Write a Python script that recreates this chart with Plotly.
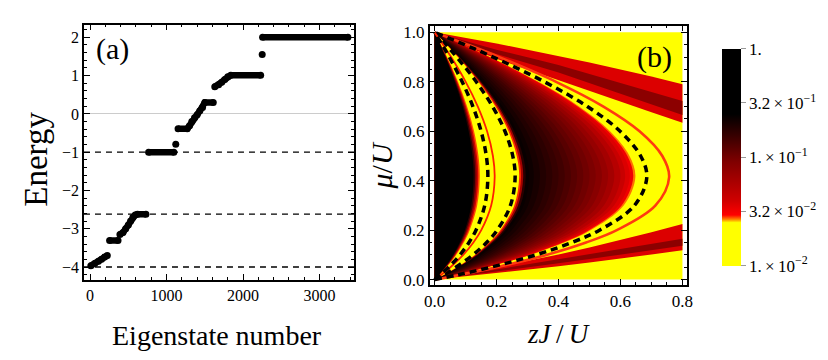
import plotly.graph_objects as go

SERIF = "Liberation Serif"

# ---- panel (a): energy staircase (None splits the runs of dots)
state_n = [10, 60, 110, 150, 190, 225, None,
           255, 365, None,
           390, 430, 465, 500, 530, 560, 590, 620, 730, None,
           765, 1095, None,
           1120, None,
           1150, 1270, 1300, 1330, 1365, 1400, 1435, 1470, 1500, 1610, None,
           1630, 1680, 1720, 1760, 1800, 1840, 2230, None,
           2250, None,
           2255, 3370]
energy = [-3.97, -3.91, -3.85, -3.80, -3.74, -3.70, None,
          -3.31, -3.31, None,
          -3.15, -3.10, -3.00, -2.90, -2.80, -2.70, -2.64, -2.62, -2.62, None,
          -1.0, -1.0, None,
          -0.79, None,
          -0.385, -0.385, -0.31, -0.20, -0.10, -0.02, 0.08, 0.17, 0.30, 0.30, None,
          0.71, 0.76, 0.83, 0.90, 0.97, 1.01, 1.01, None,
          1.55, None,
          2.0, 2.0]
dashed_levels = [-1.0, -2.62, -4.0]

# ---- panel (b): lobe curves, all share one shape
mu_pts = [0, 0.02, 0.05, 0.1, 0.15, 0.2, 0.3, 0.414, 0.5, 0.6, 0.7, 0.8, 0.9, 0.95, 1.0]
lobe_shape = [0, 0.112, 0.264, 0.477, 0.646, 0.777, 0.942, 1.0, 0.971, 0.874, 0.720, 0.518, 0.276, 0.142, 0]

# filled lobes (tip zJ/U, colour), drawn largest first
fill_lobes = [(0.648, "#ff7000"), (0.641, "#f00000"), (0.630, "#dc0000"), (0.615, "#c80000"),
              (0.600, "#b60000"), (0.580, "#a40000"), (0.560, "#960000"), (0.540, "#880000"),
              (0.520, "#7c0000"), (0.500, "#700000"), (0.480, "#640000"), (0.460, "#580000"),
              (0.440, "#4c0000"), (0.420, "#400000"), (0.400, "#360000"), (0.380, "#2c0000"),
              (0.360, "#220000"), (0.340, "#180000"), (0.320, "#0e0000"), (0.305, "#080000"),
              (0.294, "#2a0000"), (0.286, "#a00000"), (0.279, "#ff2a00"), (0.273, "#ffff00"),
              (0.146, "#ff5000"), (0.141, "#d00000"), (0.136, "#800000"), (0.131, "#300000"),
              (0.126, "#000000")]
# line lobes (tip, colour, width, dash)
line_lobes = [(0.757, "#ff3a10", 2.6, "solid"), (0.685, "black", 3.5, "7px,5px"),
              (0.260, "black", 3.5, "7px,5px"), (0.194, "#ff2000", 1.8, "solid"),
              (0.172, "black", 3.5, "7px,5px")]

# side bands (zJ/U, upper mu, lower mu)
band_x = [0, 0.1, 0.2, 0.3, 0.4, 0.5, 0.6, 0.7, 0.8]
top_hi = [1.0, 0.978, 0.955, 0.930, 0.905, 0.878, 0.850, 0.822, 0.790]
top_lo = [1.0, 0.944, 0.893, 0.848, 0.806, 0.763, 0.720, 0.677, 0.634]
top_core_hi = [1.0, 0.965, 0.930, 0.899, 0.868, 0.832, 0.795, 0.758, 0.722]
top_core_lo = [1.0, 0.955, 0.912, 0.875, 0.838, 0.795, 0.752, 0.709, 0.666]
bot_hi = [0, 0.025, 0.050, 0.076, 0.102, 0.130, 0.160, 0.192, 0.225]
bot_lo = [0, 0.013, 0.026, 0.040, 0.054, 0.069, 0.085, 0.102, 0.119]
bot_core_hi = [0, 0.021, 0.042, 0.062, 0.082, 0.102, 0.123, 0.144, 0.165]
bot_core_lo = [0, 0.016, 0.033, 0.050, 0.066, 0.083, 0.100, 0.118, 0.137]

zj_span = [0, 0.8]
mu_span = [0, 1.0]

cbar_vals = [-2, -1.5, -1, -0.5, 0]
cbar_text = ["1.\u2009×\u200910<sup>−2</sup>", "3.2\u2009×\u200910<sup>−2</sup>",
             "1.\u2009×\u200910<sup>−1</sup>", "3.2\u2009×\u200910<sup>−1</sup>", "1."]
cscale = [[0, "#ffff00"], [0.2, "#ffff00"], [0.215, "#ff8000"], [0.235, "#ff0000"],
          [0.3, "#d00000"], [0.48, "#800000"], [0.6, "#380000"], [0.7, "#000000"], [1, "#000000"]]

fig = go.Figure()

fig.add_trace(go.Scatter(x=state_n, y=energy, mode="lines+markers",
                         line=dict(color="black", width=6.5),
                         marker=dict(color="black", size=7), showlegend=False))

# panel (b)
xa, ya = "x2", "y2"
fig.add_trace(go.Scatter(x=[zj_span[0], zj_span[1], zj_span[1], zj_span[0]],
                         y=[mu_span[0], mu_span[0], mu_span[1], mu_span[1]],
                         fill="toself", fillcolor="#ffff00", line=dict(width=0),
                         mode="lines", xaxis=xa, yaxis=ya, showlegend=False))


def band(hi, lo, color):
    fig.add_trace(go.Scatter(x=band_x + band_x[::-1], y=hi + lo[::-1], fill="toself",
                             fillcolor=color, line=dict(width=0),
                             mode="lines", xaxis=xa, yaxis=ya, showlegend=False))


band(top_hi, top_lo, "#dc0000")
band(top_core_hi, top_core_lo, "#8c0000")
band(bot_hi, bot_lo, "#dc0000")
band(bot_core_hi, bot_core_lo, "#8c0000")

for tip, col in fill_lobes:
    fig.add_trace(go.Scatter(x=[tip * s for s in lobe_shape], y=mu_pts, fill="toself",
                             fillcolor=col, line=dict(width=0, shape="spline"),
                             mode="lines", xaxis=xa, yaxis=ya, showlegend=False))

for tip, col, w, dash in line_lobes:
    fig.add_trace(go.Scatter(x=[tip * s for s in lobe_shape], y=mu_pts, mode="lines",
                             line=dict(color=col, width=w, dash=dash, shape="spline"),
                             xaxis=xa, yaxis=ya, showlegend=False))

fig.add_trace(go.Scatter(x=zj_span[:1] * 2, y=mu_span[:1] * 2, mode="markers",
                         marker=dict(color=[cbar_vals[0], cbar_vals[-1]], cmin=-2, cmax=0,
                                     colorscale=cscale, opacity=0, showscale=True,
                                     colorbar=dict(x=708 / 828, xanchor="left", thickness=19,
                                                   len=242 / 360, y=1 - 150 / 360, yanchor="middle",
                                                   tickvals=cbar_vals, ticktext=cbar_text,
                                                   ticks="outside", ticklen=5, tickcolor="#999999",
                                                   outlinewidth=0,
                                                   tickfont=dict(family=SERIF, size=17, color="black"))),
                         xaxis=xa, yaxis=ya, showlegend=False))

axis_common = dict(showline=True, linecolor="black", linewidth=1.5, mirror="ticks",
                   ticks="inside", ticklen=6, tickwidth=1.2, tickcolor="black",
                   showgrid=False, zeroline=False,
                   tickfont=dict(family=SERIF, size=16, color="black"))

fig.update_layout(
    width=828, height=360, margin=dict(l=0, r=0, t=0, b=0),
    paper_bgcolor="white", plot_bgcolor="white",
    xaxis=dict(axis_common, domain=[71 / 828, 345 / 828], range=[-80, 3450],
               tickvals=[0, 1000, 2000, 3000],
               minor=dict(dtick=200, ticks="inside", ticklen=3, tickcolor="black")),
    yaxis=dict(axis_common, domain=[1 - 275 / 360, 1 - 15 / 360], range=[-4.33, 2.33],
               dtick=1, zeroline=True, zerolinecolor="#cccccc", zerolinewidth=1,
               minor=dict(dtick=0.2, ticks="inside", ticklen=3, tickcolor="black")),
    xaxis2=dict(axis_common, domain=[421.7 / 828, 683 / 828], range=[-0.016, 0.815],
                dtick=0.2, tickformat=".1f", anchor="y2",
                tickfont=dict(family=SERIF, size=17, color="black"),
                minor=dict(dtick=0.05, ticks="inside", ticklen=3, tickcolor="black")),
    yaxis2=dict(axis_common, domain=[1 - 280 / 360, 1 - 16 / 360], range=[-0.02, 1.027],
                dtick=0.2, tickformat=".1f", anchor="x2",
                tickfont=dict(family=SERIF, size=17, color="black"),
                minor=dict(dtick=0.05, ticks="inside", ticklen=3, tickcolor="black")),
)

for v in dashed_levels:
    fig.add_shape(type="line", xref="x domain", yref="y", x0=0, x1=1, y0=v, y1=v,
                  line=dict(color="black", width=1.3, dash="6px,5px"), layer="below")

notes = [
    ("Energy", 22, 152, -90, 33, "black"),
    ("Eigenstate number", 206, 332, 0, 28, "black"),
    ("<i>μ</i>/<i>U</i>", 373, 159, -90, 30, "black"),
    ("<i>zJ</i>\u2009/\u2009<i>U</i>", 552, 330, 0, 27, "black"),
    ("(a)", 100, 40, 0, 30, "black"),
    ("(b)", 650, 48, 0, 30, "black"),
]
for txt, px, py, ang, size, col in notes:
    fig.add_annotation(text=txt, x=px / 828, y=1 - py / 360, xref="paper", yref="paper",
                       showarrow=False, textangle=ang, xanchor="center", yanchor="middle",
                       font=dict(family=SERIF, size=size, color=col))

fig.write_html("out.html")
